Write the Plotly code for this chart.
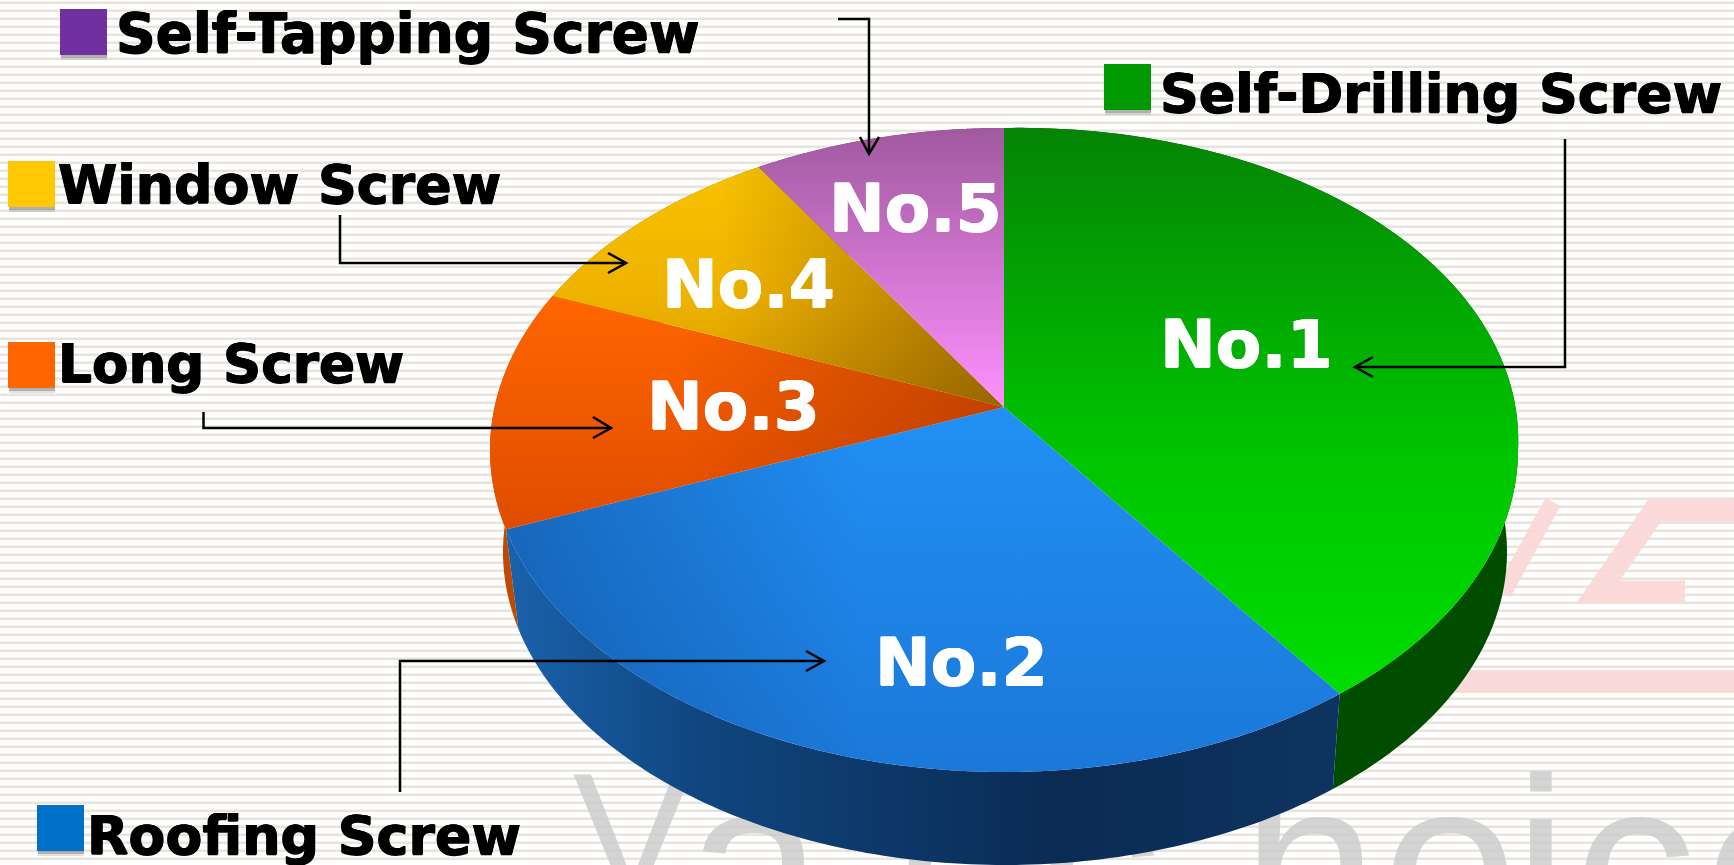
import numpy as np
import plotly.graph_objects as go

# ---------- data ----------
names = ["Self-Drilling Screw", "Roofing Screw", "Long Screw", "Window Screw", "Self-Tapping Screw"]
ranks = ["No.1", "No.2", "No.3", "No.4", "No.5"]
values = [40, 29, 12, 10, 9]
swatch_colors = ["#009900", "#0070c8", "#ff6600", "#ffc800", "#7030a0"]
watermark_letters = ["V", "a", "n", "c", "h", "o", "i", "c", "e"]

W, H = 1734, 865
# projected pie geometry
TOP = dict(cx=1004, cy=450, rx=514, ry=322)
BOT = dict(cx=1005, cy=552, rx=502, ry=313)
APEX_SHIFT = (407 - 450) / 322


def project(theta):
    """unit circle -> perspective ellipse coords, theta clockwise from 12 o'clock"""
    u, v = np.sin(theta), -np.cos(theta)
    a = APEX_SHIFT
    den = 1 + a * v
    return u * np.sqrt(1 - a * a) / den, (v + a) / den


def place(e, u, v):
    return e["cx"] + e["rx"] * u, e["cy"] + e["ry"] * v


def place_top(u, v):
    # the rendered disc bulges slightly in its upper-right quadrant
    k = 1 + 0.03 * np.clip(u, 0, 1) * np.clip(-v, 0, 1)
    return place(TOP, u * k, v * k)


cum = np.concatenate([[0], np.cumsum(values)]) / np.sum(values) * 2 * np.pi
ax0, ay0 = place(TOP, 0, APEX_SHIFT)

fig = go.Figure()

# watermark letters (behind the pie)
wm_x = [632, 755, 960, 1100, 1310, 1450, 1541, 1635, 1773]
wm_y = [852, 888, 888, 888, 888, 888, 888, 888, 888]
wm_size = [178, 245, 245, 245, 245, 245, 245, 245, 245]
fig.add_trace(go.Scatter(x=wm_x, y=wm_y, mode="text", text=watermark_letters,
                         textposition="middle center",
                         textfont=dict(family="Liberation Sans", size=wm_size, color="rgba(205,205,205,0.85)"),
                         hoverinfo="skip", showlegend=False, cliponaxis=True))

wall_grad = [
    dict(type="horizontal", start=1004, stop=1518, colorscale=[[0, "#004d00"], [1, "#004d00"]]),
    dict(type="horizontal", start=506, stop=1340,
         colorscale=[[0, "#1a62ac"], [0.23, "#10467f"], [0.66, "#0a2b54"], [1, "#0d3460"]]),
    dict(type="horizontal", start=490, stop=760, colorscale=[[0, "#c04800"], [1, "#c04800"]]),
    dict(type="horizontal", start=490, stop=760, colorscale=[[0, "#a07000"], [1, "#a07000"]]),
    dict(type="horizontal", start=490, stop=760, colorscale=[[0, "#703070"], [1, "#703070"]]),
]
top_grad = [
    dict(type="vertical", start=128, stop=693,
         colorscale=[[0, "#058405"], [0.57, "#00c400"], [1, "#00de00"]]),
    dict(type="vertical", start=407, stop=772, colorscale=[[0, "#2190f5"], [1, "#1b78d8"]]),
    dict(type="vertical", start=296, stop=529, colorscale=[[0, "#ff6600"], [1, "#e04c00"]]),
    dict(type="vertical", start=167, stop=407,
         colorscale=[[0, "#f8c200"], [0.55, "#efb200"], [1, "#cf9600"]]),
    dict(type="vertical", start=128, stop=407, colorscale=[[0, "#a0599f"], [1, "#ff90ff"]]),
]
shade = [
    None,
    dict(type="horizontal", start=506, stop=860,
         colorscale=[[0, "rgba(10,50,110,0.38)"], [1, "rgba(10,50,110,0)"]]),
    dict(type="horizontal", start=680, stop=1004,
         colorscale=[[0, "rgba(120,30,0,0)"], [1, "rgba(120,30,0,0.40)"]]),
    dict(type="horizontal", start=720, stop=1004,
         colorscale=[[0, "rgba(80,40,0,0)"], [1, "rgba(80,40,0,0.45)"]]),
    None,
]

# side walls, back to front
for i in [4, 3, 2, 0, 1]:
    th = np.linspace(cum[i], cum[i + 1], 120)
    u, v = project(th)
    xt, yt = place_top(u, v)
    xb, yb = place(BOT, u, v)
    fig.add_trace(go.Scatter(x=np.r_[xt, xb[::-1]], y=np.r_[yt, yb[::-1]], mode="none", fill="toself",
                             fillgradient=wall_grad[i], hoverinfo="skip", showlegend=False))

# top faces
for i in range(5):
    th = np.linspace(cum[i], cum[i + 1], 200)
    u, v = project(th)
    xt, yt = place_top(u, v)
    xs, ys = np.r_[ax0, xt, ax0], np.r_[ay0, yt, ay0]
    fig.add_trace(go.Scatter(x=xs, y=ys, mode="none", fill="toself", fillgradient=top_grad[i],
                             name=names[i], hoverinfo="name", showlegend=False))
    if shade[i]:
        fig.add_trace(go.Scatter(x=xs, y=ys, mode="none", fill="toself", fillgradient=shade[i],
                                 hoverinfo="skip", showlegend=False))

# background stripes + faint logo
stripes = " ".join(f"M0 {2.7 + 8 * k} H{W}" for k in range(109))
shapes = [
    dict(type="path", path=stripes, line=dict(color="#e8e4dc", width=2.4), layer="below"),
]
for p, w in [("M1553 502 L1503 593", 17), ("M1734 510 H1655 L1598 592 H1685", 23), ("M1450 681.5 H1734", 23)]:
    shapes.append(dict(type="path", path=p, line=dict(color="rgba(251,214,214,0.9)", width=w), layer="below"))

# legend swatches
swatches = [(1104, 64), (37, 805), (8, 342), (8, 161), (60, 9)]
SW, SH = 47, 46
for (x, y), c in zip(swatches, swatch_colors):
    shapes.append(dict(type="rect", x0=x + 1, x1=x + SW, y0=y + SH, y1=y + SH + 5,
                       fillcolor="rgba(90,90,90,0.18)", line_width=0, layer="below"))
    shapes.append(dict(type="rect", x0=x + 1, x1=x + SW, y0=y + SH, y1=y + SH + 3,
                       fillcolor="rgba(90,90,90,0.35)", line_width=0, layer="below"))
    shapes.append(dict(type="rect", x0=x, x1=x + SW, y0=y, y1=y + SH, fillcolor=c, line_width=0, layer="below"))

# callout arrows
arrows = [
    ("M1565 139 V367 H1355", "M1373 357 L1355 367 L1373 377"),
    ("M400 792 V661 H824", "M806 651 L824 661 L806 671"),
    ("M203.5 412 V428 H611", "M593 417 L611 428 L593 438"),
    ("M340 215 V263 H626", "M608 253 L626 263 L608 273"),
    ("M838 19 H869 V154", "M860 137 L869 154 L879 137"),
]
for a, b in arrows:
    shapes.append(dict(type="path", path=a, line=dict(color="black", width=2.5)))
    shapes.append(dict(type="path", path=b, line=dict(color="black", width=2.5)))

# texts
legend_pos = [(1158, 93), (85, 835), (56, 364), (56, 184), (114, 33)]
legend_size = [53.8, 53.8, 53.2, 53.8, 55]
bold_k = "0.7px 0 0 #000, -0.7px 0 0 #000, 0 0.5px 0 #000, 0 -0.5px 0 #000"
bold_w = "0.7px 0 0 #fff, -0.7px 0 0 #fff, 0 0.5px 0 #fff, 0 -0.5px 0 #fff"
annotations = []
for n, (x, y), s in zip(names, legend_pos, legend_size):
    annotations.append(dict(x=x, y=y, text=f"<b>{n}</b>", showarrow=False, xanchor="left", yanchor="middle",
                            font=dict(family="DejaVu Sans", size=s, color="black", shadow=bold_k)))
rank_pos = [(1246, 344), (961, 662), (733, 406), (748, 284), (915, 208)]
for r, (x, y) in zip(ranks, rank_pos):
    annotations.append(dict(x=x, y=y, text=f"<b>{r}</b>", showarrow=False, xanchor="center", yanchor="middle",
                            font=dict(family="DejaVu Sans", size=66.5, color="white", shadow=bold_w)))

fig.update_layout(
    width=W, height=H, margin=dict(l=0, r=0, t=0, b=0, pad=0),
    paper_bgcolor="white", plot_bgcolor="white", showlegend=False,
    xaxis=dict(range=[0, W], visible=False, fixedrange=True),
    yaxis=dict(range=[H, 0], visible=False, fixedrange=True),
    shapes=shapes, annotations=annotations,
)
fig.write_html("out.html", config=dict(displayModeBar=False),
               post_script="document.body.style.margin='0';document.body.style.overflow='hidden';")
